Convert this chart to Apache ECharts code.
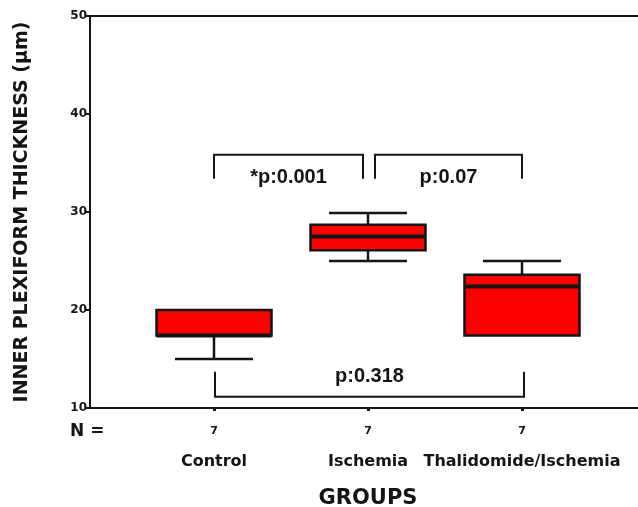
<!DOCTYPE html>
<html>
<head>
<meta charset="utf-8">
<script src="https://cdn.jsdelivr.net/npm/echarts@6/dist/echarts.min.js"></script>
<style>html,body{margin:0;padding:0;background:#fff}#c{width:638px;height:507px}</style>
</head>
<body>
<div id="c"></div>
<script>
// ---- data ----
var categories = ['Control', 'Ischemia', 'Thalidomide/Ischemia'];
var nCounts = [7, 7, 7];
// [min, Q1, median, Q3, max]
var boxValues = [
  [15.0, 17.4, 17.4, 20.0, 20.0],
  [25.0, 26.1, 27.5, 28.7, 29.9],
  [17.4, 17.4, 22.4, 23.6, 25.0]
];
var yTicks = [10, 20, 30, 40, 50];
// comparisons
var compFrom = [0, 1, 0];
var compTo = [1, 2, 2];
var compBar = [35.85, 35.85, 11.15];
var compEnd = [33.4, 33.4, 13.7];
var compLabel = ['*p:0.001', 'p:0.07', 'p:0.318'];
var compLabelValue = [33.55, 33.55, 13.2];

var chart = echarts.init(document.getElementById('c'), null, {renderer: 'canvas'});
var gFont = '"DejaVu Sans", Verdana, sans-serif';
var RED = '#ff0000', INK = '#141414';

var boxData = boxValues.map(function (v, i) { return [i].concat(v); });
var compData = compFrom.map(function (f, i) {
  return [f, compTo[i], compBar[i], compEnd[i], compLabelValue[i], i];
});
// pixel nudges for bracket ends so adjacent brackets don't touch
var endNudge = [[0, -5], [7, 0], [1, 2]];

var option = {
  animation: false,
  backgroundColor: '#fff',
  grid: [
    {left: 90, top: 16, right: -20, bottom: 99, outerBoundsMode: 'none', containLabel: false},
    {left: 137, top: 16, width: 462, bottom: 99, outerBoundsMode: 'none', containLabel: false}
  ],
  xAxis: [
    {gridIndex: 0, type: 'value', min: 0, max: 1, position: 'bottom',
     axisLine: {show: true, lineStyle: {color: INK, width: 2}},
     axisTick: {show: false}, axisLabel: {show: false}, splitLine: {show: false}},
    {gridIndex: 0, type: 'value', min: 0, max: 1, position: 'top',
     axisLine: {show: true, lineStyle: {color: INK, width: 2}},
     axisTick: {show: false}, axisLabel: {show: false}, splitLine: {show: false}},
    {gridIndex: 1, type: 'category', data: categories, position: 'bottom',
     axisLine: {show: false},
     axisTick: {show: true, alignWithLabel: true, length: 3, lineStyle: {color: INK, width: 3}},
     axisLabel: {
       margin: 16, interval: 0, hideOverlap: false,
       formatter: function (v, i) { return '{n|' + nCounts[i] + '}\n{c|' + v + '}'; },
       rich: {
         n: {fontFamily: gFont, fontWeight: 'bold', fontSize: 11, lineHeight: 14, color: INK},
         c: {fontFamily: gFont, fontWeight: 'bold', fontSize: 16, lineHeight: 48, color: INK}
       }
     },
     name: 'GROUPS', nameLocation: 'middle', nameGap: 80,
     nameTextStyle: {fontFamily: gFont, fontWeight: 'bold', fontSize: 21, color: INK}
    }
  ],
  yAxis: [
    {gridIndex: 0, type: 'value', min: 10, max: 50, interval: 10,
     axisLine: {show: true, lineStyle: {color: INK, width: 2}},
     axisTick: {show: true, length: 5, lineStyle: {color: INK, width: 2}},
     axisLabel: {margin: 3, fontFamily: gFont, fontWeight: 'bold', fontSize: 12, color: INK,
       formatter: function (v) { return yTicks.indexOf(v) >= 0 ? String(v) : ''; }},
     splitLine: {show: false},
     name: 'INNER PLEXIFORM THICKNESS (μm)', nameLocation: 'middle', nameGap: 58, nameRotate: 90,
     nameTextStyle: {fontFamily: gFont, fontWeight: 'bold', fontSize: 19, color: INK}
    },
    {gridIndex: 1, type: 'value', min: 10, max: 50, show: false}
  ],
  graphic: [
    {type: 'text', left: 70, top: 423,
     style: {text: 'N =', font: 'bold 17px ' + gFont, fill: INK}}
  ],
  series: [
    {
      type: 'custom', xAxisIndex: 2, yAxisIndex: 1, data: boxData,
      encode: {x: 0, y: [1, 2, 3, 4, 5]},
      renderItem: function (params, api) {
        var c = api.value(0);
        var pMin = api.coord([c, api.value(1)]);
        var pQ1 = api.coord([c, api.value(2)]);
        var pMed = api.coord([c, api.value(3)]);
        var pQ3 = api.coord([c, api.value(4)]);
        var pMax = api.coord([c, api.value(5)]);
        var x = pMed[0];
        var bw = 115, cw = 78;
        var ls = {stroke: INK, lineWidth: 2.5};
        var ch = [];
        if (pMax[1] < pQ3[1] - 0.5) {
          ch.push({type: 'line', shape: {x1: x, y1: pMax[1], x2: x, y2: pQ3[1]}, style: ls});
          ch.push({type: 'line', shape: {x1: x - cw / 2, y1: pMax[1], x2: x + cw / 2, y2: pMax[1]}, style: ls});
        }
        if (pMin[1] > pQ1[1] + 0.5) {
          ch.push({type: 'line', shape: {x1: x, y1: pQ1[1], x2: x, y2: pMin[1]}, style: ls});
          ch.push({type: 'line', shape: {x1: x - cw / 2, y1: pMin[1], x2: x + cw / 2, y2: pMin[1]}, style: ls});
        }
        ch.push({type: 'rect', shape: {x: x - bw / 2, y: pQ3[1], width: bw, height: pQ1[1] - pQ3[1]},
                 style: {fill: RED, stroke: INK, lineWidth: 2.5}});
        ch.push({type: 'line', shape: {x1: x - bw / 2, y1: pMed[1], x2: x + bw / 2, y2: pMed[1]},
                 style: {stroke: INK, lineWidth: 4}});
        return {type: 'group', children: ch};
      }
    },
    {
      type: 'custom', xAxisIndex: 2, yAxisIndex: 1, data: compData,
      encode: {x: [0, 1], y: [2, 3]},
      renderItem: function (params, api) {
        var i = api.value(5);
        var a = api.coord([api.value(0), api.value(2)]);
        var b = api.coord([api.value(1), api.value(2)]);
        var e = api.coord([api.value(0), api.value(3)]);
        var t = api.coord([api.value(0), api.value(4)]);
        var x1 = a[0] + endNudge[i][0], x2 = b[0] + endNudge[i][1];
        var ls = {stroke: INK, lineWidth: 2, fill: null};
        return {type: 'group', children: [
          {type: 'polyline', shape: {points: [[x1, e[1]], [x1, a[1]], [x2, a[1]], [x2, e[1]]]}, style: ls},
          {type: 'text', x: (x1 + x2) / 2, y: t[1],
           style: {text: compLabel[i], font: 'bold 20px "Liberation Sans", Arial, sans-serif',
                   fill: INK, align: 'center', verticalAlign: 'middle'}}
        ]};
      }
    }
  ]
};
chart.setOption(option);
</script>
</body>
</html>
